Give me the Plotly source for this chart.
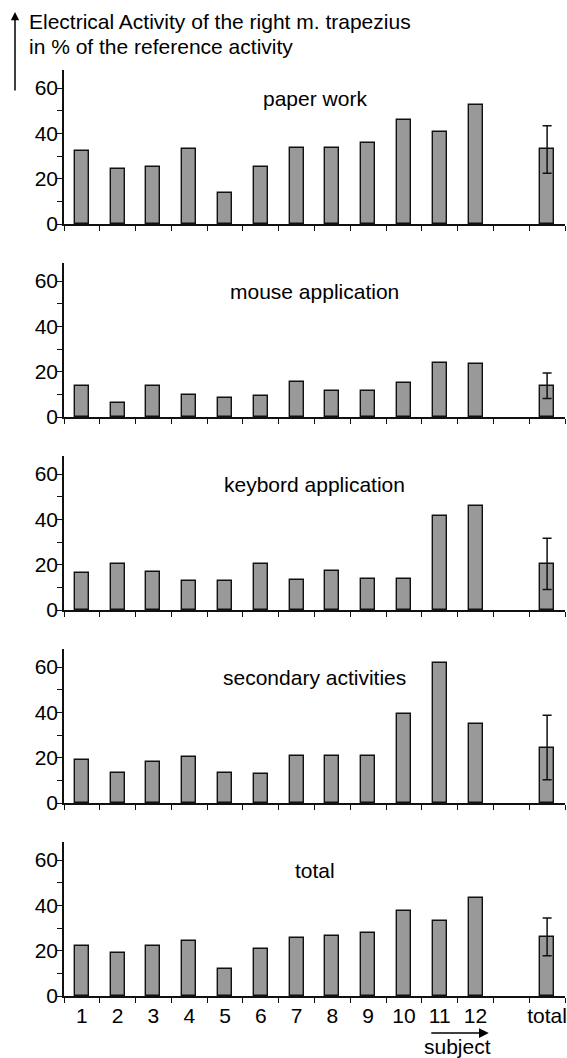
import plotly.graph_objects as go

subjects = list(range(1, 13))
subject_labels = [str(s) for s in subjects]
total_pos = 14
total_label = "total"

panel_titles = ["paper work", "mouse application", "keybord application",
                "secondary activities", "total"]

paper_work = [32.3, 24.1, 25.3, 32.9, 13.5, 25.3, 33.5, 33.4, 35.9, 45.9, 40.7, 52.5]
mouse_app = [13.9, 6.1, 13.9, 9.8, 8.6, 9.2, 15.6, 11.4, 11.4, 15.1, 24.0, 23.4]
keybord_app = [16.2, 20.4, 16.8, 12.7, 12.7, 20.4, 13.2, 17.3, 13.8, 13.8, 41.6, 46.0]
secondary_act = [19.2, 13.2, 18.0, 20.4, 13.2, 12.6, 20.8, 20.8, 20.8, 39.5, 61.9, 34.7]
total_act = [21.9, 18.9, 21.9, 24.4, 12.0, 20.8, 25.5, 26.7, 27.9, 37.4, 33.2, 43.3]

total_means = [32.9, 13.8, 20.4, 24.5, 26.1]
total_sd = [10.5, 5.6, 11.3, 14.2, 8.3]

series = [paper_work, mouse_app, keybord_app, secondary_act, total_act]

title_lines = ["Electrical Activity of the right m. trapezius",
               "in % of the reference activity"]

W, H = 567, 1058
FONT = "Liberation Sans"
FS = 21
BAR_FILL = "#999999"
LINE = "#111111"

x_left, x_right = 64, 565
zero0, spacing, ph = 224, 193, 154

fig = go.Figure()
layout = dict(
    width=W, height=H,
    margin=dict(l=0, r=0, t=0, b=0),
    paper_bgcolor="white", plot_bgcolor="white",
    showlegend=False,
    font=dict(family=FONT, size=FS, color="black"),
    bargap=0,
)

annotations = []
for i, vals in enumerate(series):
    n = i + 1
    xa = "x" if n == 1 else f"x{n}"
    ya = "y" if n == 1 else f"y{n}"
    zero = zero0 + spacing * i
    bottom = (H - zero) / H
    top = (H - (zero - ph)) / H
    fig.add_trace(go.Bar(
        x=subjects, y=vals, xaxis=xa, yaxis=ya, width=0.39,
        marker=dict(color=BAR_FILL, line=dict(color=LINE, width=1.4)),
        hoverinfo="skip",
    ))
    fig.add_trace(go.Bar(
        x=[total_pos], y=[total_means[i]], xaxis=xa, yaxis=ya, width=0.39,
        marker=dict(color=BAR_FILL, line=dict(color=LINE, width=1.4)),
        error_y=dict(type="data", array=[total_sd[i]], symmetric=True,
                     color=LINE, thickness=1.5, width=4.5),
        hoverinfo="skip",
    ))
    xkey = "xaxis" if n == 1 else f"xaxis{n}"
    ykey = "yaxis" if n == 1 else f"yaxis{n}"
    is_bottom = (n == len(series))
    layout[xkey] = dict(
        domain=[x_left / W, x_right / W], anchor=ya, range=[0.5, 14.5],
        showline=True, linecolor=LINE, linewidth=1.5,
        showgrid=False, zeroline=False,
        tickmode="array", tickvals=subjects + [total_pos],
        ticktext=subject_labels + [total_label],
        ticks="", showticklabels=is_bottom,
        tickfont=dict(family=FONT, size=FS, color="black"),
        minor=dict(tickmode="array", tickvals=[k + 0.5 for k in range(0, 15)],
                   ticks="outside", ticklen=5, tickwidth=1.3, tickcolor=LINE,
                   showgrid=False),
        fixedrange=True, automargin=False,
    )
    layout[ykey] = dict(
        domain=[bottom, top], anchor=xa, range=[0, 68],
        showline=True, linecolor=LINE, linewidth=1.5,
        showgrid=False, zeroline=False,
        tickmode="array", tickvals=[0, 20, 40, 60],
        ticks="outside", ticklen=5, tickwidth=1.3, tickcolor=LINE,
        ticklabelstandoff=-5,
        tickfont=dict(family=FONT, size=FS, color="black"),
        minor=dict(tickmode="array", tickvals=[10, 30, 50], ticks="outside",
                   ticklen=5, tickwidth=1.3, tickcolor=LINE, showgrid=False),
        fixedrange=True, automargin=False,
    )
    annotations.append(dict(
        text=panel_titles[i], xref="paper", yref=ya,
        x=(x_left + x_right) / 2 / W, y=55.5, xanchor="center", yanchor="middle",
        showarrow=False, font=dict(family=FONT, size=FS, color="black"),
    ))

# y-axis title (two lines) with upward arrow
for k, (line_text, cy) in enumerate(zip(title_lines, [22, 47])):
    annotations.append(dict(
        text=line_text, xref="paper", yref="paper", x=27 / W, y=(H - cy) / H,
        xanchor="left", yanchor="middle", align="left", showarrow=False,
        font=dict(family=FONT, size=FS, color="black"),
    ))
annotations.append(dict(
    text="", xref="paper", yref="paper", x=15 / W, y=(H - 12) / H,
    axref="pixel", ayref="pixel", ax=0, ay=80,
    showarrow=True, arrowhead=2, arrowsize=1.1, arrowwidth=1.5,
    arrowcolor="black", standoff=0,
))
# subject arrow
annotations.append(dict(
    text="", xref="x5", yref="paper", x=12.37, y=(H - 1033) / H,
    axref="pixel", ayref="pixel", ax=-59, ay=0,
    showarrow=True, arrowhead=2, arrowsize=1.3, arrowwidth=1.5,
    arrowcolor="black", standoff=0,
))
annotations.append(dict(
    text="subject", xref="paper", yref="paper", x=457 / W, y=(H - 1046) / H,
    xanchor="center", yanchor="middle", showarrow=False,
    font=dict(family=FONT, size=FS, color="black"),
))

layout["annotations"] = annotations
fig.update_layout(**layout)
fig.write_html(
    "out.html",
    config={"displayModeBar": False},
    post_script="document.body.style.margin='0px';document.body.style.overflow='hidden';",
)
